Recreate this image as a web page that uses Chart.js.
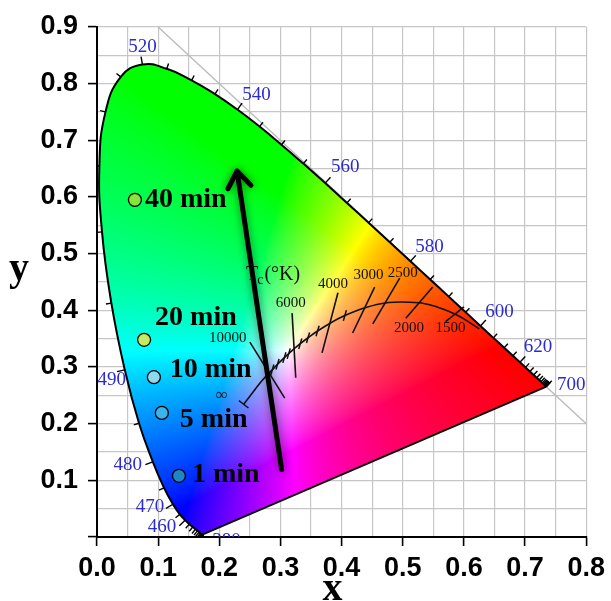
<!DOCTYPE html>
<html><head><meta charset="utf-8">
<script src="https://cdn.jsdelivr.net/npm/chart.js@4.4.1/dist/chart.umd.min.js"></script>
<style>html,body{margin:0;padding:0;background:#fff;overflow:hidden}#wrap{width:611px;height:601px}</style>
</head><body><div id="wrap"><canvas id="c" width="611" height="601"></canvas></div>
<script>
// ---------- data ----------
const xTickLabels = ['0.0','0.1','0.2','0.3','0.4','0.5','0.6','0.7','0.8'];
const yTickLabels = ['','0.1','0.2','0.3','0.4','0.5','0.6','0.7','0.8','0.9'];

const sampleLabels = ['1 min','5 min','10 min','20 min','40 min'];
const sampleX = [0.134, 0.106, 0.093, 0.077, 0.062];
const sampleY = [0.108, 0.219, 0.282, 0.348, 0.595];

const arrowX = [0.302, 0.229];
const arrowY = [0.119, 0.646];

// CIE 1931 spectral locus, 380-700 nm
const wavelengths = [380,385,390,395,400,405,410,415,420,425,430,435,440,445,450,455,460,465,470,475,480,485,490,495,500,505,510,515,520,525,530,535,540,545,550,555,560,565,570,575,580,585,590,595,600,605,610,615,620,625,630,635,640,645,650,655,660,665,670,675,680,685,690,695,700];
const locusX = [0.1741,0.1740,0.1738,0.1736,0.1733,0.1730,0.1726,0.1721,0.1714,0.1703,0.1689,0.1669,0.1644,0.1611,0.1566,0.1510,0.1440,0.1355,0.1241,0.1096,0.0913,0.0687,0.0454,0.0235,0.0082,0.0039,0.0139,0.0389,0.0743,0.1142,0.1547,0.1929,0.2296,0.2658,0.3016,0.3373,0.3731,0.4087,0.4441,0.4788,0.5125,0.5448,0.5752,0.6029,0.6270,0.6482,0.6658,0.6801,0.6915,0.7006,0.7079,0.7140,0.7190,0.7230,0.7260,0.7283,0.7300,0.7311,0.7320,0.7327,0.7334,0.7340,0.7344,0.7346,0.7347];
const locusY = [0.0050,0.0050,0.0049,0.0049,0.0048,0.0048,0.0048,0.0048,0.0051,0.0058,0.0069,0.0086,0.0109,0.0138,0.0177,0.0227,0.0297,0.0399,0.0578,0.0868,0.1327,0.2007,0.2950,0.4127,0.5384,0.6548,0.7502,0.8120,0.8338,0.8262,0.8059,0.7816,0.7543,0.7243,0.6923,0.6589,0.6245,0.5896,0.5547,0.5202,0.4866,0.4544,0.4242,0.3965,0.3725,0.3514,0.3340,0.3197,0.3083,0.2993,0.2920,0.2859,0.2809,0.2770,0.2740,0.2717,0.2700,0.2689,0.2680,0.2673,0.2666,0.2660,0.2656,0.2654,0.2653];
const wlLabelValues = [380,460,470,480,490,520,540,560,580,600,620,700];

// Planckian locus
const planckT = ['inf',20000,15000,12000,10000,9000,8000,7000,6500,6000,5500,5000,4500,4000,3500,3000,2500,2000,1800,1600,1500,1400,1200];
const planckX = [0.2399,0.2568,0.2637,0.2711,0.2807,0.2867,0.2952,0.3064,0.3135,0.3221,0.3324,0.3451,0.3607,0.3805,0.4053,0.4369,0.4770,0.5267,0.5496,0.5720,0.5857,0.5993,0.6251];
const planckY = [0.2341,0.2580,0.2680,0.2776,0.2884,0.2952,0.3048,0.3166,0.3236,0.3318,0.3411,0.3516,0.3635,0.3768,0.3907,0.4041,0.4137,0.4133,0.4081,0.3998,0.3931,0.3854,0.3674];
const smallTickTemps = [9000,8000,7000,6500,5500,5000,4500,3500];

// isotemperature lines
const isoLabels = ['10000','6000','4000','3000','2500','2000','1500'];
const isoX1 = [0.250, 0.319, 0.394, 0.454, 0.495, 0.549, 0.600];
const isoY1 = [0.344, 0.395, 0.431, 0.441, 0.457, 0.441, 0.406];
const isoX2 = [0.307, 0.325, 0.368, 0.418, 0.451, 0.505, 0.570];
const isoY2 = [0.245, 0.281, 0.325, 0.360, 0.376, 0.386, 0.380];
const isoLabelX = [0.214, 0.317, 0.386, 0.444, 0.500, 0.510, 0.578];
const isoLabelY = [0.351, 0.413, 0.446, 0.462, 0.466, 0.369, 0.369];
const infLabel = {x:0.204, y:0.249};
const tcLabel = {x:0.288, y:0.466};

// x + y = 1 line
const diagX = [0.1, 0.8];
const diagY = [0.9, 0.2];

// ---------- styles ----------
const sampleColors = ['#1f86c6','#38b6ec','#8fd9ef','#c4ea66','#86e43a'];
const sampleLabelDX = [13, 18, 16, 11, 10];
const sampleLabelDY = [-1, 7, -7, -22, 0];
const wlLabelDX = {380:23,460:-23,470:-23,480:-25,490:-13,520:0,540:19,560:20,580:19,600:19,620:18,700:25};
const wlLabelDY = {380:7,460:7,470:3,480:3,490:10,520:-17,540:-15,560:-16,580:-14,600:-14,620:-15,700:-2};

const isMajor = v => Math.abs(Math.round(v*20)) % 2 === 0;
const SERIF = '"Liberation Serif","Times New Roman",serif';
const SANS = '"Liberation Sans",Arial,sans-serif';

function xyToRGB(x, y){
  if (y <= 1e-5) return [0,0,0];
  const X = x/y, Z = (1-x-y)/y;
  let r = 3.2406*X - 1.5372 - 0.4986*Z;
  let g = -0.9689*X + 1.8758 + 0.0415*Z;
  let b = 0.0557*X - 0.2040 + 1.0570*Z;
  r = Math.max(r,0); g = Math.max(g,0); b = Math.max(b,0);
  const m = Math.max(r,g,b) || 1;
  const f = v => Math.round(255*Math.pow(v/m, 1/1.3));
  return [f(r), f(g), f(b)];
}

let fillCache = null;
function buildFill(chart){
  const a = chart.chartArea, sx = chart.scales.x, sy = chart.scales.y;
  const w = Math.ceil(a.right - a.left), h = Math.ceil(a.bottom - a.top);
  const off = document.createElement('canvas');
  off.width = w; off.height = h;
  const octx = off.getContext('2d');
  const img = octx.createImageData(w, h);
  const xs = [];
  for (let i = 0; i < w; i++) xs.push(sx.getValueForPixel(a.left + i + 0.5));
  for (let j = 0; j < h; j++){
    const yv = sy.getValueForPixel(a.top + j + 0.5);
    for (let i = 0; i < w; i++){
      const c = xyToRGB(xs[i], yv);
      const k = (j*w + i)*4;
      img.data[k]=c[0]; img.data[k+1]=c[1]; img.data[k+2]=c[2]; img.data[k+3]=255;
    }
  }
  octx.putImageData(img, 0, 0);
  return {canvas: off, w, h};
}

function locusPixels(chart){
  const sx = chart.scales.x, sy = chart.scales.y;
  return locusX.map((v,i)=>[sx.getPixelForValue(v), sy.getPixelForValue(locusY[i])]);
}

// smooth closed path of the spectral locus, using the line element of the library
function locusPath(chart, ctx){
  const meta = chart.getDatasetMeta(1);
  const line = meta && meta.dataset;
  ctx.beginPath();
  if (line && typeof line.path === 'function'){
    if (typeof line.updateControlPoints === 'function') line.updateControlPoints(chart.chartArea, 'x');
    line.path(ctx);
  } else {
    locusPixels(chart).forEach((p,i)=> i ? ctx.lineTo(p[0],p[1]) : ctx.moveTo(p[0],p[1]));
  }
  ctx.closePath();
}

const ciePlugin = {
  id: 'cie',
  beforeDatasetsDraw(chart){
    const ctx = chart.ctx, a = chart.chartArea, sx = chart.scales.x, sy = chart.scales.y;
    ctx.save();
    ctx.beginPath(); ctx.rect(a.left, a.top, a.right-a.left, a.bottom-a.top); ctx.clip();
    // diagonal x+y=1
    ctx.strokeStyle = '#b9b9b9'; ctx.lineWidth = 1.3;
    ctx.beginPath();
    ctx.moveTo(sx.getPixelForValue(diagX[0]), sy.getPixelForValue(diagY[0]));
    ctx.lineTo(sx.getPixelForValue(diagX[1]), sy.getPixelForValue(diagY[1]));
    ctx.stroke();
    // colour fill
    if (!fillCache) fillCache = buildFill(chart);
    locusPath(chart, ctx);
    ctx.clip();
    ctx.drawImage(fillCache.canvas, a.left, a.top);
    ctx.restore();
  },
  afterDatasetsDraw(chart){
    const ctx = chart.ctx, a = chart.chartArea, sx = chart.scales.x, sy = chart.scales.y;
    const px = v => sx.getPixelForValue(v), py = v => sy.getPixelForValue(v);
    ctx.save();
    ctx.beginPath(); ctx.rect(a.left, a.top, a.right-a.left, a.bottom-a.top); ctx.clip();
    // wavelength ticks
    const pts = locusPixels(chart);
    ctx.strokeStyle = '#000'; ctx.lineWidth = 1.4;
    for (let i = 0; i < pts.length; i++){
      let j0 = i, j1 = i;
      while (true){
        const p0 = pts[j0], p1 = pts[j1];
        if (Math.hypot(p1[0]-p0[0], p1[1]-p0[1]) > 4) break;
        if (j0 === 0 && j1 === pts.length-1) break;
        if (j0 > 0) j0--; if (j1 < pts.length-1) j1++;
      }
      let tx = pts[j1][0]-pts[j0][0], ty = pts[j1][1]-pts[j0][1];
      const L = Math.hypot(tx,ty) || 1; tx/=L; ty/=L;
      const nx = ty, ny = -tx;
      const len = wlLabelValues.includes(wavelengths[i]) ? 8 : 5.5;
      ctx.beginPath();
      ctx.moveTo(pts[i][0], pts[i][1]);
      ctx.lineTo(pts[i][0]+nx*len, pts[i][1]+ny*len);
      ctx.stroke();
    }
    // wavelength labels
    ctx.fillStyle = '#2b2bd0'; ctx.font = '19px ' + SERIF;
    ctx.textAlign = 'center'; ctx.textBaseline = 'middle';
    wlLabelValues.forEach(w=>{
      const i = wavelengths.indexOf(w);
      ctx.fillText(String(w), pts[i][0]+wlLabelDX[w], pts[i][1]+wlLabelDY[w]);
    });
    // planck small ticks
    ctx.strokeStyle = '#111'; ctx.lineWidth = 1.5;
    smallTickTemps.forEach(t=>{
      const i = planckT.indexOf(t);
      const x0 = px(planckX[i]), y0 = py(planckY[i]);
      const dx = 0.28, dy = -0.96, h = 5.5;
      ctx.beginPath(); ctx.moveTo(x0-dx*h, y0-dy*h); ctx.lineTo(x0+dx*h, y0+dy*h); ctx.stroke();
    });
    // end tick at infinity
    {
      const x0 = px(planckX[0]), y0 = py(planckY[0]);
      let tx = px(planckX[1])-x0, ty = py(planckY[1])-y0;
      const L = Math.hypot(tx,ty); tx/=L; ty/=L;
      ctx.beginPath(); ctx.moveTo(x0-ty*6, y0+tx*6); ctx.lineTo(x0+ty*6, y0-tx*6); ctx.stroke();
    }
    // planck labels
    ctx.fillStyle = '#111'; ctx.font = '15px ' + SERIF;
    ctx.textAlign = 'center'; ctx.textBaseline = 'middle';
    isoLabels.forEach((t,i)=> ctx.fillText(t, px(isoLabelX[i]), py(isoLabelY[i])));
    ctx.font = '17px ' + SERIF;
    ctx.fillText('\u221E', px(infLabel.x), py(infLabel.y));
    // Tc(°K)
    {
      ctx.font = '20px ' + SERIF; ctx.textAlign = 'left'; ctx.textBaseline = 'alphabetic';
      const wT = ctx.measureText('T').width, wP = ctx.measureText('(\u00B0K)').width;
      ctx.font = '14px ' + SERIF; const wc = ctx.measureText('c').width;
      const tot = wT + wc + wP;
      let x0 = px(tcLabel.x) - tot/2; const yb = py(tcLabel.y) + 7;
      ctx.font = '20px ' + SERIF; ctx.fillText('T', x0, yb); x0 += wT - 1;
      ctx.font = '14px ' + SERIF; ctx.fillText('c', x0, yb + 4); x0 += wc + 1;
      ctx.font = '20px ' + SERIF; ctx.fillText('(\u00B0K)', x0, yb);
    }
    // arrow
    {
      const x0 = px(arrowX[0]), y0 = py(arrowY[0]), x1 = px(arrowX[1]), y1 = py(arrowY[1]);
      ctx.save();
      ctx.shadowColor = 'rgba(0,0,0,0.5)'; ctx.shadowBlur = 8;
      ctx.strokeStyle = '#000'; ctx.lineWidth = 5; ctx.lineCap = 'round'; ctx.lineJoin = 'round';
      const ang = Math.atan2(y0-y1, x0-x1);
      const hl = 20, ha = 0.62;
      ctx.beginPath();
      ctx.moveTo(x0, y0); ctx.lineTo(x1, y1);
      ctx.moveTo(x1 + hl*Math.cos(ang-ha), y1 + hl*Math.sin(ang-ha));
      ctx.lineTo(x1, y1);
      ctx.lineTo(x1 + hl*Math.cos(ang+ha), y1 + hl*Math.sin(ang+ha));
      ctx.stroke();
      ctx.restore();
    }
    // sample labels
    ctx.fillStyle = '#000'; ctx.font = 'bold 28px ' + SERIF;
    ctx.textAlign = 'left'; ctx.textBaseline = 'middle';
    sampleLabels.forEach((t,i)=> ctx.fillText(t, px(sampleX[i]) + sampleLabelDX[i], py(sampleY[i]) + sampleLabelDY[i]));
    ctx.restore();
    // axis titles
    ctx.save();
    ctx.fillStyle = '#000'; ctx.font = 'bold 40px ' + SERIF;
    ctx.textAlign = 'center'; ctx.textBaseline = 'alphabetic';
    ctx.fillText('x', (a.left + a.right)/2 - 9, 600);
    ctx.fillText('y', 19, 280);
    ctx.restore();
  }
};

// datasets
const datasets = [
  { type:'scatter', data: sampleX.map((v,i)=>({x:v, y:sampleY[i]})),
    pointRadius: 6.5, pointBackgroundColor: sampleColors, pointBorderColor:'#000', pointBorderWidth:1.3, order:0 },
  { type:'line', data: locusX.map((v,i)=>({x:v, y:locusY[i]})),
    borderColor:'#000', borderWidth:2, pointRadius:0, tension:0.45, fill:false, order:3 },
  { type:'line', data: [{x:locusX[0], y:locusY[0]}, {x:locusX[locusX.length-1], y:locusY[locusY.length-1]}],
    borderColor:'#000', borderWidth:1.8, pointRadius:0, tension:0, fill:false, order:3 },
  { type:'line', data: planckX.map((v,i)=>({x:v, y:planckY[i]})),
    borderColor:'#111', borderWidth:1.6, pointRadius:0, tension:0.3, fill:false, order:2 }
];
isoLabels.forEach((t,i)=>{
  datasets.push({ type:'line', data:[{x:isoX1[i], y:isoY1[i]},{x:isoX2[i], y:isoY2[i]}],
    borderColor:'#111', borderWidth:1.6, pointRadius:0, fill:false, order:2 });
});

const axisCommon = (labels) => ({
  type:'linear',
  grid:{ color:'#c6c6c6', lineWidth:1.2, tickLength:9,
         tickColor: c => isMajor(c.tick.value) ? '#000' : 'rgba(0,0,0,0)', tickWidth:1.6 },
  border:{ color:'#000', width:2 },
  ticks:{ stepSize:0.05, autoSkip:false, maxRotation:0, color:'#000', padding:6,
          font:{ family:SANS, size:27, weight:'bold' },
          callback: v => isMajor(v) ? labels[Math.round(v*10)] : '' }
});

const xOpts = Object.assign(axisCommon(xTickLabels), { min:0, max:0.8, afterFit: s => { s.height = 64; } });
const yOpts = Object.assign(axisCommon(yTickLabels), { min:0, max:0.9, afterFit: s => { s.width = 97; } });
yOpts.ticks.padding = 10;

new Chart(document.getElementById('c'), {
  type:'scatter',
  data:{ datasets },
  options:{
    responsive:false, animation:false, devicePixelRatio:1,
    layout:{ padding:{ left:0, right:24, top:27, bottom:0 } },
    plugins:{ legend:{display:false}, tooltip:{enabled:false} },
    scales:{ x:xOpts, y:yOpts }
  },
  plugins:[ciePlugin]
});
</script></body></html>
